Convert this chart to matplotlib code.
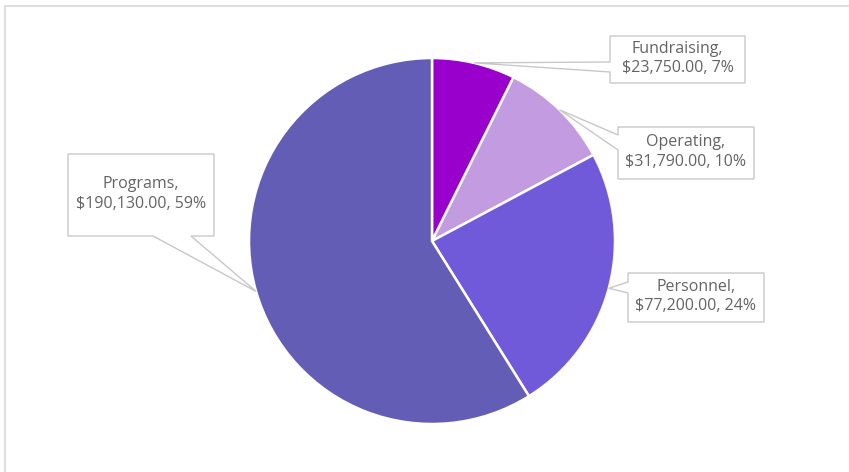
import numpy as np
import matplotlib.pyplot as plt
from matplotlib.patches import Polygon, Rectangle

# ------------------------------
# Data
# ------------------------------
categories = ['Fundraising', 'Operating', 'Personnel', 'Programs']
amounts = [23750.00, 31790.00, 77200.00, 190130.00]
colors = ['#9900CC', '#C29BE1', '#715AD9', '#635DB5']

# callout layout in pixels (left, top, right, bottom), pointer side, base range
boxes = {
    'Fundraising': ((610, 36, 745, 83), 'left', (62, 72)),
    'Operating': ((618, 127, 754, 179), 'left', (135, 150)),
    'Personnel': ((628, 273, 764, 322), 'left', (282, 293)),
    'Programs': ((68, 154, 214, 236), 'bottom', (153, 191)),
}

W, H = 849, 472
CX, CY, R = 432, 241, 183


def py(y):
    # pixel row -> data y (axes runs bottom-up)
    return H - y


def callout(ax, box, side, base, tip):
    l, t, r, b = box
    if side == 'left':
        pts = [(l, t), (r, t), (r, b), (l, b), (l, base[1]), tip, (l, base[0])]
    else:
        pts = [(l, t), (r, t), (r, b), (base[1], b), tip, (base[0], b), (l, b)]
    pts = [(x, py(y)) for x, y in pts]
    ax.add_patch(Polygon(pts, closed=True, facecolor='white',
                         edgecolor='#C8C8C8', linewidth=1.0, zorder=3))


fig = plt.figure(figsize=(W / 100, H / 100), dpi=100)
ax = fig.add_axes([0, 0, 1, 1])

wedges, _ = ax.pie(amounts, colors=colors, startangle=90, counterclock=False,
                   center=(CX, py(CY)), radius=R, frame=True,
                   wedgeprops=dict(edgecolor='white', linewidth=1.8))
ax.set_xlim(0, W)
ax.set_ylim(0, H)
ax.axis('off')

# chart area border (cropped screenshot: only top and left edges show)
ax.add_patch(Rectangle((5, -10), W + 20, py(6) + 10, facecolor='none',
                       edgecolor='#D9D9D9', linewidth=1.2, zorder=1))

total = sum(amounts)
for w, name, val in zip(wedges, categories, amounts):
    mid = np.deg2rad((w.theta1 + w.theta2) / 2)
    tip = (CX + R * np.cos(mid), CY - R * np.sin(mid))
    box, side, base = boxes[name]
    callout(ax, box, side, base, tip)
    l, t, r, b = box
    pct = round(val / total * 100)
    ax.text((l + r) / 2, py((t + b) / 2 - 1), f'{name},\n${val:,.2f}, {pct}%',
            ha='center', va='center', fontsize=11.5, color='#646464',
            family='Open Sans', linespacing=1.3, zorder=4)

fig.savefig('out.png', dpi=100)
